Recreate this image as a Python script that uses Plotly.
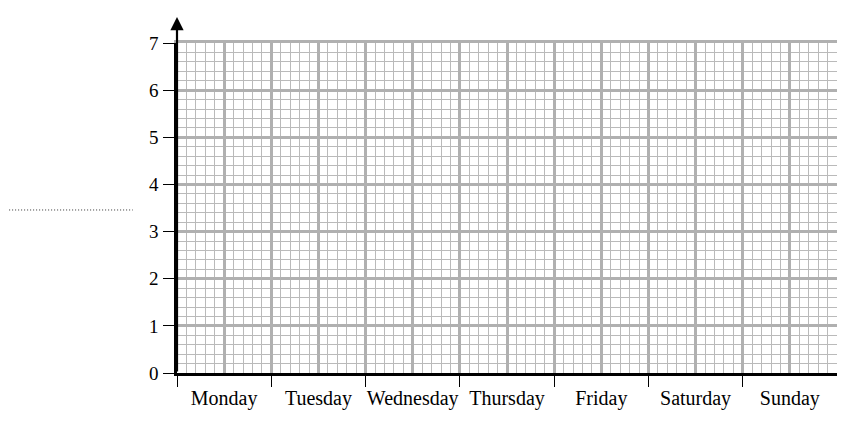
import plotly.graph_objects as go

days = ["Monday", "Tuesday", "Wednesday", "Thursday", "Friday", "Saturday", "Sunday"]
y_ticks = [0, 1, 2, 3, 4, 5, 6, 7]
values = [None] * len(days)  # blank answer grid

XFONT = dict(family="Liberation Serif, Times New Roman, serif", size=20, color="#000000")
YFONT = dict(family="Liberation Serif, Times New Roman, serif", size=19, color="#000000")
MINOR = "#bababa"
MAJOR = "#b0b0b0"

fig = go.Figure()
# main subplot: day labels + y labels
fig.add_trace(go.Scatter(x=days, y=values, mode="markers", showlegend=False,
                         hoverinfo="skip", xaxis="x", yaxis="y"))
# fine grid subplot, then heavy grid subplot (drawn on top)
for xa, ya in [("x2", "y2"), ("x3", "y3")]:
    fig.add_trace(go.Scatter(x=[0, len(days)], y=[None, None], mode="markers", showlegend=False,
                             hoverinfo="skip", xaxis=xa, yaxis=ya))

hidden = dict(showticklabels=False, ticks="", zeroline=False, automargin=False)

fig.update_layout(
    template="none",
    width=845, height=426,
    margin=dict(l=169, r=16, t=35, b=61),
    paper_bgcolor="white", plot_bgcolor="white",
    font=XFONT,
    xaxis=dict(
        type="category", categoryorder="array", categoryarray=days,
        range=[-0.5, len(days) - 0.5], automargin=False, tickangle=0,
        tickson="boundaries", ticks="outside", ticklen=11, tickwidth=1.3, tickcolor="black",
        showline=True, linecolor="black", linewidth=2.5, layer="above traces",
        showgrid=False, zeroline=False, tickfont=XFONT, ticklabelstandoff=5,
    ),
    yaxis=dict(
        range=[0, 7], tickvals=y_ticks, ticks="outside", ticklen=11, tickwidth=1.3,
        tickcolor="black", showline=True, linecolor="black", linewidth=2.5,
        showgrid=False, automargin=False, layer="above traces",
        zeroline=False, tickfont=YFONT, ticklabelstandoff=1,
    ),
    # fine grid: 0.1 day / 0.2 unit
    xaxis2=dict(overlaying="x", range=[0, len(days)], tickmode="linear", tick0=0, dtick=0.1,
                showgrid=True, gridcolor=MINOR, gridwidth=1, showline=False, **hidden),
    yaxis2=dict(overlaying="y", range=[0, 7], tickmode="linear", tick0=0, dtick=0.2,
                showgrid=True, gridcolor=MINOR, gridwidth=1, showline=False, **hidden),
    # heavy grid: 0.5 day / 1 unit, with grey border on top and right
    xaxis3=dict(overlaying="x", side="top", range=[0, len(days)], tickmode="linear", tick0=0,
                dtick=0.5, showgrid=True, gridcolor=MAJOR, gridwidth=2.5,
                showline=True, linecolor=MAJOR, linewidth=2.5, **hidden),
    yaxis3=dict(overlaying="y", side="right", range=[0, 7], tickmode="linear", tick0=0,
                dtick=1, showgrid=True, gridcolor=MAJOR, gridwidth=2.5,
                showline=True, linecolor=MAJOR, linewidth=2.5, **hidden),
    shapes=[
        dict(type="line", xref="paper", yref="paper", x0=-0.268, x1=-0.067,
             y0=0.494, y1=0.494, line=dict(color="#333333", width=1, dash="1px,2px")),
    ],
    annotations=[
        dict(xref="x3", yref="y3", x=0, y=7.55, axref="x3", ayref="y3", ax=0, ay=0,
             showarrow=True, arrowhead=2, arrowsize=1.2, arrowwidth=2.2,
             arrowcolor="black", text=""),
    ],
)

fig.write_html("out.html")
